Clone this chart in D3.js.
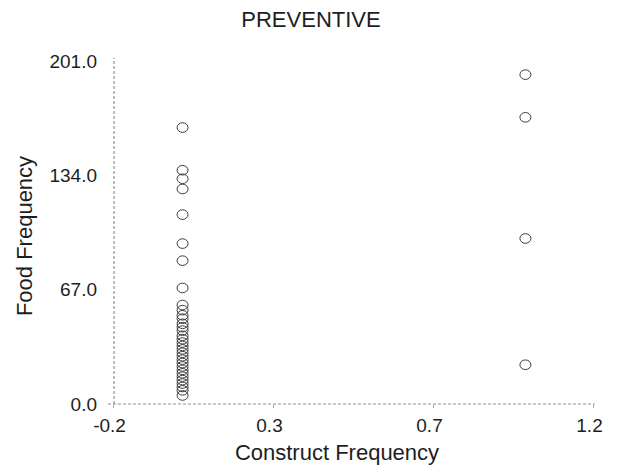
<!DOCTYPE html>
<html>
<head>
<meta charset="utf-8">
<script src="https://cdn.jsdelivr.net/npm/d3@7"></script>
<style>
  html, body { margin: 0; padding: 0; background: #fff; }
  svg { display: block; font-family: "Liberation Sans", Arial, sans-serif; }
</style>
</head>
<body>
<svg id="chart" width="617" height="468"></svg>
<script>
// Construct frequency (x) and food frequency (y) per item
const constructFreq = [
  0, 0, 0, 0, 0, 0, 0, 0,
  0, 0, 0, 0, 0, 0, 0, 0, 0, 0, 0, 0, 0, 0, 0, 0, 0, 0, 0, 0, 0, 0, 0, 0, 0,
  1, 1, 1, 1
];
const foodFreq = [
  162, 137, 132, 126, 111, 94, 84, 68,
  58, 55, 52, 50, 47, 45, 43, 40, 38, 36, 34, 32, 30, 28, 26, 24, 22, 20, 18, 16, 14, 12, 10, 8, 5,
  193, 168, 97, 23
];
const xTicks = [-0.2, -0.2 + 1.4 / 3, -0.2 + 2.8 / 3, 1.2];
const yTicks = [0, 67, 134, 201];

const svg = d3.select("#chart");
const x = d3.scaleLinear().domain([-0.2, 1.2]).range([113, 593]);
const y = d3.scaleLinear().domain([0, 201]).range([404, 61]);

const ink = "#1e1e1e";
const axisGrey = "#909090";
const fmt = d => d3.format(".1f")(d).replace("\u2212", "-");

// Title
svg.append("text")
  .attr("x", 311).attr("y", 27)
  .attr("text-anchor", "middle")
  .attr("font-size", 22)
  .attr("fill", ink)
  .text("PREVENTIVE");

// Axis lines (dotted, faint)
svg.append("line")
  .attr("x1", 108).attr("x2", x(1.2) + 2)
  .attr("y1", y(0)).attr("y2", y(0))
  .attr("stroke", axisGrey).attr("stroke-width", 1.2)
  .attr("stroke-dasharray", "3,2");
svg.append("line")
  .attr("x1", x(-0.2) + 1).attr("x2", x(-0.2) + 1)
  .attr("y1", y(0)).attr("y2", y(201) - 3)
  .attr("stroke", axisGrey).attr("stroke-width", 1.2)
  .attr("stroke-dasharray", "3,2");

// X axis ticks and labels
const xAxis = d3.axisBottom(x)
  .tickValues(xTicks)
  .tickSize(4)
  .tickSizeOuter(0)
  .tickPadding(11)
  .tickFormat(fmt);
const gx = svg.append("g").attr("transform", `translate(0,${y(0)})`).call(xAxis);
gx.select(".domain").remove();
gx.selectAll(".tick line").attr("stroke", "#b0b0b0");
gx.selectAll(".tick text")
  .attr("dx", -4)
  .attr("font-size", 19)
  .attr("font-family", "Liberation Sans, Arial, sans-serif")
  .attr("fill", ink);

// Y axis labels
const yAxis = d3.axisLeft(y)
  .tickValues(yTicks)
  .tickSize(0)
  .tickPadding(16)
  .tickFormat(fmt);
const gy = svg.append("g").attr("transform", `translate(${x(-0.2)},0)`).call(yAxis);
gy.select(".domain").remove();
gy.selectAll(".tick text")
  .attr("font-size", 19)
  .attr("font-family", "Liberation Sans, Arial, sans-serif")
  .attr("fill", ink);

// Axis titles
svg.append("text")
  .attr("x", 337).attr("y", 460)
  .attr("text-anchor", "middle")
  .attr("font-size", 22)
  .attr("fill", ink)
  .text("Construct Frequency");
svg.append("text")
  .attr("transform", "translate(32,236) rotate(-90)")
  .attr("text-anchor", "middle")
  .attr("font-size", 22)
  .attr("fill", ink)
  .text("Food Frequency");

// Points
const points = constructFreq.map((c, i) => ({ c, f: foodFreq[i] }));
svg.append("g").selectAll("ellipse")
  .data(points)
  .join("ellipse")
  .attr("cx", d => x(d.c) + 1)
  .attr("cy", d => y(d.f))
  .attr("rx", 5.5)
  .attr("ry", 4.8)
  .attr("fill", "none")
  .attr("stroke", "#3a3a3a")
  .attr("stroke-width", 1);
</script>
</body>
</html>
